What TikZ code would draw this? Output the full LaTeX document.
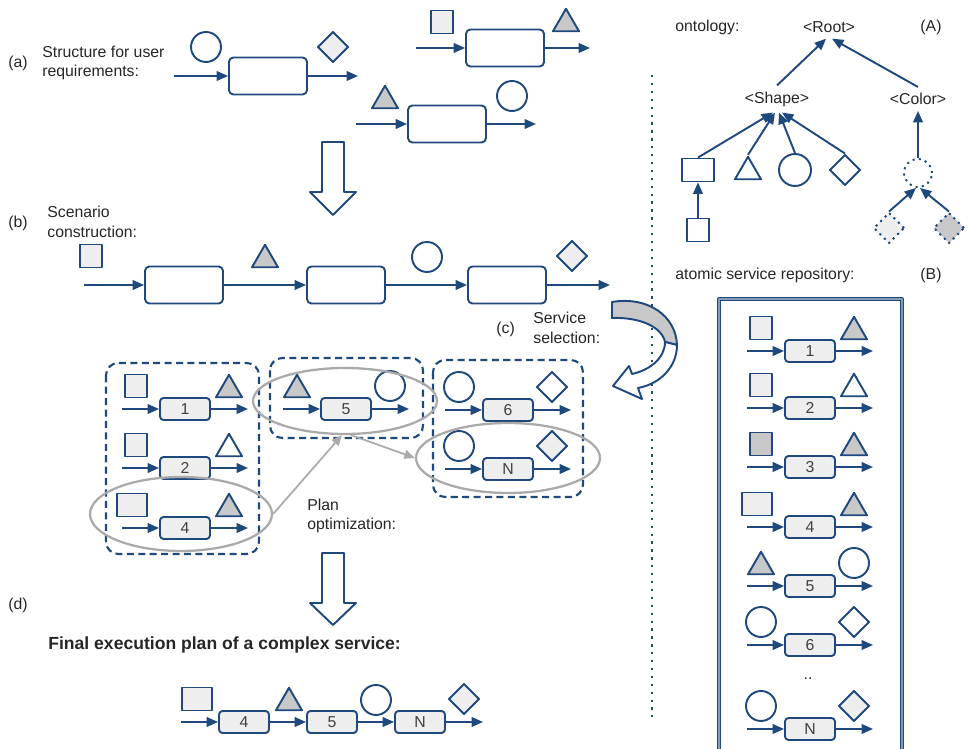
\documentclass[tikz,border=0pt]{standalone}
\usepackage{fontspec}
\setmainfont{Liberation Sans}
\usepackage{tikz}
\usetikzlibrary{arrows.meta,shapes.geometric}
\definecolor{navy}{RGB}{31,73,125}
\definecolor{lite}{RGB}{238,238,238}
\definecolor{mid}{RGB}{200,200,200}
\definecolor{ringgray}{RGB}{170,170,170}
\definecolor{txt}{RGB}{38,38,38}

\begin{document}
\begin{tikzpicture}[x={(0.02cm,0cm)}, y={(0cm,-0.02cm)}, line join=round,
  every node/.style={font=\fontsize{9}{11}\selectfont, text=txt},
  lbl/.style={anchor=west, align=left, inner sep=0pt},
  flow/.style={-{Triangle[length=6.5pt,width=5.5pt]}, draw=navy, line width=1.1pt},
  opt/.style={-{Triangle[length=6pt,width=5pt]}, draw=ringgray, line width=1pt},
  task/.style={draw=navy, line width=1.1pt, rounded corners=2.5pt, fill=white,
    minimum width=1.56cm, minimum height=0.74cm},
  atom/.style={draw=navy, line width=1.1pt, rounded corners=2pt, fill=lite,
    minimum width=1cm, minimum height=0.44cm, inner sep=0pt, text=black!75},
  outl/.style={draw=navy, line width=1.1pt, inner sep=0pt},
  sqL/.style={outl, fill=lite, minimum width=0.44cm, minimum height=0.46cm},
  sqD/.style={sqL, fill=mid},
  sqW/.style={sqL, minimum width=0.6cm, xshift=-0.08cm},
  sqO/.style={sqL, fill=white},
  triG/.style={outl, regular polygon, regular polygon sides=3, minimum size=0.6cm,
    fill=mid, yshift=-0.075cm},
  triW/.style={triG, fill=white},
  circ/.style={outl, circle, minimum size=0.6cm, fill=white},
  diaW/.style={outl, diamond, minimum size=0.62cm, fill=white},
  diaL/.style={diaW, fill=lite},
  dots/.style={dash pattern=on 1.2pt off 2.4pt},
  grp/.style={draw=navy, line width=1.2pt, dash pattern=on 4pt off 2.5pt, rounded corners=7pt},
  ring/.style={ellipse, draw=ringgray, line width=1.3pt, inner sep=0pt},
  hollow/.style={draw=navy, line width=1.1pt, fill=white}]
  \useasboundingbox (0,0) rectangle (968,749);

  % (a) user requirements
  \node[lbl] (la) at (8,63) {(a)};
  \node[lbl] (ta) at (42,63) {Structure for user\\requirements:};
  \node[task] (a1) at (268,76) {};
  \coordinate (a1i) at (174,76); \coordinate (a1o) at (358,76);
  \draw[flow] (a1i) -- (a1); \draw[flow] (a1) -- (a1o);
  \node[circ] (a1l) at (206,47) {};
  \node[diaL] (a1r) at (333,47) {};
  \node[task] (a2) at (505,48) {};
  \coordinate (a2i) at (416,48); \coordinate (a2o) at (590,48);
  \draw[flow] (a2i) -- (a2); \draw[flow] (a2) -- (a2o);
  \node[sqL] (a2l) at (442,22) {};
  \node[triG] (a2r) at (566,20) {};
  \node[task] (a3) at (447,124) {};
  \coordinate (a3i) at (356,124); \coordinate (a3o) at (536,124);
  \draw[flow] (a3i) -- (a3); \draw[flow] (a3) -- (a3o);
  \node[triG] (a3l) at (385,97) {};
  \node[circ] (a3r) at (512,96) {};
  \draw[hollow] (322,142) -- (344,142) -- (344,192) -- (356,192) -- (333,215)
    -- (310,192) -- (322,192) -- cycle;

  % (b) scenario
  \node[lbl] (lb) at (8,223) {(b)};
  \node[lbl] (tb) at (47,222) {Scenario\\construction:};
  \node[task] (b1) at (184,285) {};
  \node[task] (b2) at (346,285) {};
  \node[task] (b3) at (507,285) {};
  \coordinate (bi) at (84,285); \coordinate (bo) at (610,285);
  \draw[flow] (bi) -- (b1); \draw[flow] (b1) -- (b2);
  \draw[flow] (b2) -- (b3); \draw[flow] (b3) -- (bo);
  \node[sqL] (bs) at (91,256) {};
  \node[triG] (bt) at (265,256) {};
  \node[circ] (bc) at (427,257) {};
  \node[diaL] (bd) at (572,256) {};

  % (c) service selection
  \node[lbl] (lc) at (496,329) {(c)};
  \node[lbl] (tc) at (533,328) {Service\\selection:};
  \draw[navy, line width=1.3pt, dash pattern=on 1.3pt off 3.2pt] (652,75) -- (652,717);
  \draw[fill=mid, draw=navy, line width=1.1pt] (612,302) .. controls (648,296) and (676,316) .. (677,345)
    -- (665,342) .. controls (662,327) and (640,317) .. (612,318) -- cycle;
  \draw[hollow] (677,345) .. controls (677,367) and (660,384) .. (638,388) -- (642,399)
    -- (613,386) -- (629,366) -- (632,374) .. controls (650,370) and (665,358) .. (665,342) -- cycle;
  \draw[grp] (106,363) rectangle (259,554);
  \draw[grp] (270,358) rectangle (423,438);
  \draw[grp] (433,360) rectangle (583,497);
  \foreach \n/\x/\y/\ls/\rs in {1/185/409/sqL/triG, 2/185/468/sqL/triW, 4/185/528/sqW/triG,
      5/346/409/triG/circ, 6/508/410/circ/diaW, N/508/469/circ/diaL}{
    \node[atom] (g\n) at (\x,\y) {\n};
    \node[\ls] (gl\n) at (\x-49,\y-23) {};
    \node[\rs] (gr\n) at (\x+44,\y-23) {};
    \coordinate (gi\n) at (\x-63,\y); \coordinate (go\n) at (\x+63,\y);
    \draw[flow] (gi\n) -- (g\n); \draw[flow] (g\n) -- (go\n);
  }
  \node[ring, minimum width=3.64cm, minimum height=1.48cm] (e4) at (181,514) {};
  \node[ring, minimum width=3.68cm, minimum height=1.32cm] (e5) at (345,401) {};
  \node[ring, minimum width=3.68cm, minimum height=1.4cm] (eN) at (508,458) {};
  \draw[opt] (e4.east) -- (e5.-95);
  \draw[opt] (e5.-80) -- (eN.west);
  \node[lbl] (tp) at (307,516) {Plan\\optimization:};
  \draw[hollow] (322,553) -- (344,553) -- (344,603) -- (356,603) -- (333,625)
    -- (310,603) -- (322,603) -- cycle;

  % (d) final plan
  \node[lbl] (ld) at (8,605) {(d)};
  \node[lbl, font=\bfseries\fontsize{10}{12}\selectfont] (td) at (48,645)
    {Final execution plan of a complex service:};
  \node[atom] (f4) at (244,722) {4};
  \node[atom] (f5) at (332,722) {5};
  \node[atom] (fN) at (420,722) {N};
  \coordinate (fi) at (181,722); \coordinate (fo) at (483,722);
  \draw[flow] (fi) -- (f4); \draw[flow] (f4) -- (f5);
  \draw[flow] (f5) -- (fN); \draw[flow] (fN) -- (fo);
  \node[sqW] (fs) at (201,699) {};
  \node[triG] (ft) at (289,699) {};
  \node[circ] (fc) at (376,700) {};
  \node[diaL] (fd) at (464,699) {};

  % (A) ontology
  \node[lbl] (lo) at (675,27) {ontology:};
  \node (root) at (829,27) {<Root>};
  \node (lA) at (931,27) {(A)};
  \node (shape) at (777,99) {<Shape>};
  \node (color) at (918,99) {<Color>};
  \node[sqO, minimum width=0.64cm] (orect) at (698,170) {};
  \node[triW] (otri) at (748,168) {};
  \node[circ, minimum size=0.64cm] (ocirc) at (795,170) {};
  \node[diaW] (odia) at (845,170) {};
  \node[sqO] (osq) at (698,230) {};
  \node[circ, dots, minimum size=0.56cm] (odc) at (918,173) {};
  \node[diaL, dots] (od1) at (889,228) {};
  \node[diaW, fill=mid, dots] (od2) at (949,228) {};
  \draw[flow] (shape.north) -- ([xshift=-0.06cm]root.south);
  \draw[flow] (color.north) -- ([xshift=0.06cm]root.south);
  \draw[flow] (orect.north) -- ([xshift=-0.08cm]shape.south);
  \draw[flow] (otri.north) -- ([xshift=-0.04cm]shape.south);
  \draw[flow] (ocirc.north) -- ([xshift=0.04cm]shape.south);
  \draw[flow] (odia.north) -- ([xshift=0.1cm]shape.south);
  \draw[flow] (osq.north) -- (orect.south);
  \draw[flow] (odc.north) -- (color.south);
  \draw[flow] (od1.north) -- ([xshift=-0.04cm]odc.south);
  \draw[flow] (od2.north) -- ([xshift=0.04cm]odc.south);

  % (B) repository
  \node[lbl] (lr) at (675,275) {atomic service repository:};
  \node (lB) at (931,275) {(B)};
  \draw[navy, line width=0.8pt, double=navy!55, double distance=0.7pt] (719,299) rectangle (902,760);
  \foreach \n/\y/\ls/\rs in {1/351/sqL/triG, 2/408/sqL/triW, 3/467/sqD/triG, 4/527/sqW/triG,
      5/586/triG/circ, 6/645/circ/diaW, N/729/circ/diaL}{
    \node[atom] (r\n) at (810,\y) {\n};
    \node[\ls] (rl\n) at (761,\y-23) {};
    \node[\rs] (rr\n) at (854,\y-23) {};
    \coordinate (ri\n) at (747,\y); \coordinate (ro\n) at (873,\y);
    \draw[flow] (ri\n) -- (r\n); \draw[flow] (r\n) -- (ro\n);
  }
  \node (rdots) at (808,679) {..};
\end{tikzpicture}
\end{document}
